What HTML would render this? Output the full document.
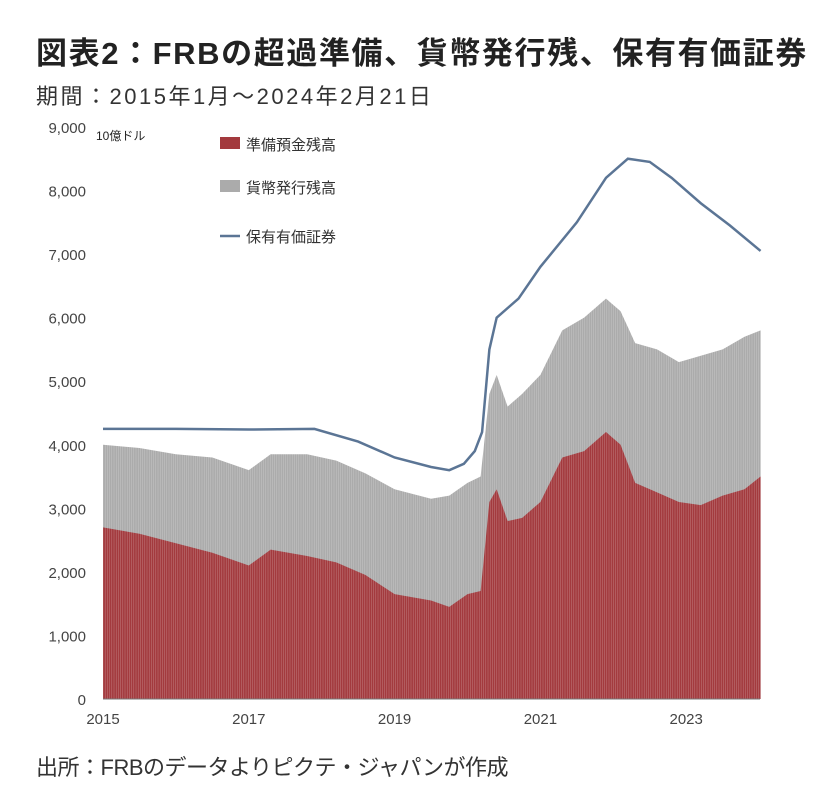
<!DOCTYPE html>
<html><head><meta charset="utf-8">
<style>
body{margin:0;background:#fff;width:835px;height:789px;overflow:hidden;font-family:"Liberation Sans","Noto Sans CJK JP",sans-serif;}
</style></head>
<body>
<svg width="835" height="789" xmlns="http://www.w3.org/2000/svg">
<text x="36" y="64" font-size="31" font-weight="bold" fill="#222" letter-spacing="1.6" font-family="Liberation Sans,Noto Sans CJK JP,sans-serif">図表2：FRBの超過準備、貨幣発行残、保有有価証券</text>
<text x="36" y="104" font-size="22" fill="#333" letter-spacing="2.5" font-family="Liberation Sans,Noto Sans CJK JP,sans-serif">期間：2015年1月～2024年2月21日</text>
<text x="96" y="140" font-size="12" fill="#222" font-family="Liberation Sans,Noto Sans CJK JP,sans-serif">10億ドル</text>
<g id="plot"></g>
<text x="36" y="775" font-size="22" fill="#333" letter-spacing="-0.5" font-family="Liberation Sans,Noto Sans CJK JP,sans-serif">出所：FRBのデータよりピクテ・ジャパンが作成</text>
</svg>
<script>
const dates=[2015.0,2015.5,2016.0,2016.5,2017.0,2017.3,2017.8,2018.2,2018.6,2019.0,2019.5,2019.75,2020.0,2020.18,2020.3,2020.4,2020.55,2020.75,2021.0,2021.3,2021.6,2021.9,2022.1,2022.3,2022.6,2022.9,2023.2,2023.5,2023.8,2024.02];
const reserves=[2700,2600,2450,2300,2100,2350,2250,2150,1950,1650,1550,1450,1650,1700,3100,3300,2800,2850,3100,3800,3900,4200,4000,3400,3250,3100,3050,3200,3300,3500];
const currency=[1300,1350,1400,1500,1500,1500,1600,1600,1600,1650,1600,1750,1750,1800,1700,1800,1800,1950,2000,2000,2100,2100,2100,2200,2250,2200,2350,2300,2400,2300];
const secDates=[2015.0,2016.0,2017.0,2017.9,2018.5,2019.0,2019.5,2019.75,2019.95,2020.1,2020.2,2020.3,2020.4,2020.7,2021.0,2021.5,2021.9,2022.2,2022.5,2022.8,2023.2,2023.6,2024.02];
const securities=[4250,4250,4240,4250,4050,3800,3650,3600,3700,3900,4200,5500,6000,6300,6800,7500,8200,8500,8450,8200,7800,7450,7050];
const yTicks=[0,1000,2000,3000,4000,5000,6000,7000,8000,9000];
const xTicks=[2015,2017,2019,2021,2023];
const NS="http://www.w3.org/2000/svg";
const X=v=>103+(v-2015)*72.9;
const Y=v=>699-v*0.06356;
const g=document.getElementById('plot');
function mk(t,a){const e=document.createElementNS(NS,t);for(const k in a)e.setAttribute(k,a[k]);g.appendChild(e);return e;}
yTicks.forEach(t=>{
 const e=mk('text',{x:86,y:Y(t)+6,'text-anchor':'end','font-size':15,fill:'#444'});e.textContent=t.toLocaleString('en-US');
 
 
});
xTicks.forEach(t=>{
 const e=mk('text',{x:X(t),y:724,'text-anchor':'middle','font-size':15,fill:'#444'});e.textContent=t;
 
 
});
let totPts=dates.map((d,i)=>X(d)+','+Y(reserves[i]+currency[i])).join(' ');
let resPts=dates.map((d,i)=>X(d)+','+Y(reserves[i])).join(' ');
const x0=X(dates[0]),x1=X(dates[dates.length-1]);
const a1=mk('polygon',{points:x0+','+Y(0)+' '+totPts+' '+x1+','+Y(0),fill:'#ababab'});


const a2=mk('polygon',{points:x0+','+Y(0)+' '+resPts+' '+x1+','+Y(0),fill:'#a33a3e'});


for(let x=x0;x<x1;x+=2.2){mk('line',{x1:x,x2:x,y1:Y(0),y2:Y(6500),stroke:'#fff','stroke-width':0.5,'stroke-opacity':0.35});}
mk('line',{x1:103,x2:760,y1:Y(0),y2:Y(0),stroke:'#777','stroke-width':1});
const ln=mk('polyline',{points:secDates.map((d,i)=>X(d)+','+Y(securities[i])).join(' '),fill:'none',stroke:'#5b7595','stroke-width':2.5});


const leg=[['準備預金残高','rect','#a33a3e',144],['貨幣発行残高','rect','#ababab',187],['保有有価証券','line','#5b7595',236]];
leg.forEach(l=>{
 if(l[1]=='rect'){mk('rect',{x:220,y:l[3]-7,width:20,height:12,fill:l[2]});}
 else mk('line',{x1:220,x2:240,y1:l[3],y2:l[3],stroke:l[2],'stroke-width':2.5});
 const e=mk('text',{x:246,y:l[3]+6,'font-size':15,fill:'#333'});e.textContent=l[0];
 
 
});
</script>
</body></html>
